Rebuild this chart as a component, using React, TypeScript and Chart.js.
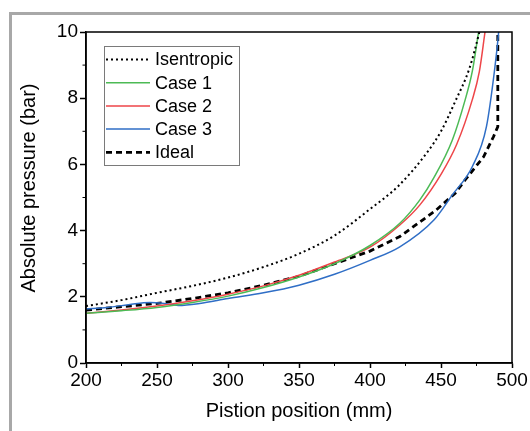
import React, { useEffect, useRef } from "react";
import { Chart, registerables } from "chart.js";

Chart.register(...registerables);

// ---- data ----
const xTicks = [200, 250, 300, 350, 400, 450, 500];
const yTicks = [0, 2, 4, 6, 8, 10];
const xMinorTicks = [225, 275, 325, 375, 425, 475];
const yMinorTicks = [1, 3, 5, 7, 9];

const isentropicX = [200, 225, 250, 275, 300, 325, 350, 375, 400, 420, 440, 450, 460, 470, 477, 480];
const isentropicY = [1.72, 1.9, 2.12, 2.33, 2.58, 2.9, 3.3, 3.85, 4.65, 5.35, 6.35, 7.0, 7.9, 8.9, 10.0, 10.6];

const case1X = [200, 225, 250, 275, 300, 325, 350, 375, 400, 421, 435, 445, 458, 467, 472, 476.5, 479];
const case1Y = [1.5, 1.58, 1.68, 1.83, 2.02, 2.28, 2.6, 3.0, 3.55, 4.22, 4.92, 5.6, 6.74, 7.95, 8.8, 10.0, 10.6];

const case2X = [200, 225, 250, 275, 300, 325, 350, 375, 400, 421, 435, 450, 461, 472, 477, 481, 483];
const case2Y = [1.5, 1.6, 1.72, 1.88, 2.08, 2.33, 2.65, 3.05, 3.5, 4.17, 4.77, 5.7, 6.6, 7.95, 8.8, 10.0, 10.6];

const case3X = [200, 215, 230, 245, 255, 265, 280, 300, 325, 350, 375, 400, 421, 445, 458, 472, 482, 488, 490.6, 492];
const case3Y = [1.63, 1.68, 1.76, 1.83, 1.8, 1.74, 1.8, 1.95, 2.12, 2.35, 2.68, 3.1, 3.51, 4.32, 5.08, 5.93, 7.14, 8.95, 10.0, 10.8];

const idealX = [200, 225, 250, 275, 300, 325, 350, 375, 400, 421, 446, 460, 467, 480, 487, 490, 490];
const idealY = [1.6, 1.7, 1.8, 1.95, 2.12, 2.35, 2.62, 3.0, 3.38, 3.82, 4.6, 5.13, 5.53, 6.23, 6.84, 7.14, 10.5];

const seriesLabels = ["Isentropic", "Case 1", "Case 2", "Case 3", "Ideal"];
const xTitle = "Pistion position (mm)";
const yTitle = "Absolute pressure (bar)";

const FONT = "'Liberation Sans', Arial, sans-serif";

const pts = (xs: number[], ys: number[]) => xs.map((x, i) => ({ x, y: ys[i] }));

export default function App() {
  const ref = useRef<HTMLCanvasElement | null>(null);

  useEffect(() => {
    if (!ref.current) return;

    const framePlugin = {
      id: "frame",
      afterDraw(chart: any) {
        const { ctx, chartArea } = chart;
        const { left, right, top, bottom } = chartArea;
        const xs = chart.scales.x;
        const ys = chart.scales.y;
        ctx.save();
        // frame
        ctx.strokeStyle = "#000";
        ctx.lineWidth = 1.5;
        ctx.strokeRect(left, top, right - left, bottom - top);
        // minor ticks
        ctx.lineWidth = 1;
        ctx.beginPath();
        xMinorTicks.forEach((v) => {
          const px = xs.getPixelForValue(v);
          ctx.moveTo(px, bottom);
          ctx.lineTo(px, bottom + 3);
        });
        yMinorTicks.forEach((v) => {
          const py = ys.getPixelForValue(v);
          ctx.moveTo(left, py);
          ctx.lineTo(left - 3.5, py);
        });
        ctx.stroke();
        // y title
        ctx.fillStyle = "#000";
        ctx.font = `20px ${FONT}`;
        ctx.textAlign = "center";
        ctx.textBaseline = "middle";
        ctx.translate(29, 188);
        ctx.rotate(-Math.PI / 2);
        ctx.fillText(yTitle, 0, 0);
        ctx.restore();

        // legend
        ctx.save();
        const bx = 104, by = 46, bw = 135, bh = 119;
        ctx.strokeStyle = "#7a7a7a";
        ctx.lineWidth = 1;
        ctx.strokeRect(bx + 0.5, by + 0.5, bw, bh);
        ctx.font = `18px ${FONT}`;
        ctx.textAlign = "left";
        ctx.textBaseline = "middle";
        chart.data.datasets.forEach((ds: any, i: number) => {
          const yy = 59.5 + i * 23.2;
          ctx.beginPath();
          ctx.strokeStyle = ds.borderColor;
          ctx.lineWidth = ds.borderWidth;
          ctx.setLineDash(ds.borderDash || []);
          ctx.moveTo(106, yy);
          ctx.lineTo(150, yy);
          ctx.stroke();
          ctx.setLineDash([]);
          ctx.fillStyle = "#000";
          ctx.fillText(ds.label, 155, yy + 1);
        });
        ctx.restore();
      },
    };

    const chart = new Chart(ref.current, {
      type: "line",
      data: {
        datasets: [
          {
            label: seriesLabels[0],
            data: pts(isentropicX, isentropicY),
            borderColor: "#000",
            borderWidth: 2,
            borderDash: [2, 3],
            pointRadius: 0,
            cubicInterpolationMode: "monotone",
          },
          {
            label: seriesLabels[1],
            data: pts(case1X, case1Y),
            borderColor: "#4cba55",
            borderWidth: 1.5,
            pointRadius: 0,
            cubicInterpolationMode: "monotone",
          },
          {
            label: seriesLabels[2],
            data: pts(case2X, case2Y),
            borderColor: "#ee4548",
            borderWidth: 1.5,
            pointRadius: 0,
            cubicInterpolationMode: "monotone",
          },
          {
            label: seriesLabels[3],
            data: pts(case3X, case3Y),
            borderColor: "#2f6ec6",
            borderWidth: 1.5,
            pointRadius: 0,
            cubicInterpolationMode: "monotone",
          },
          {
            label: seriesLabels[4],
            data: pts(idealX, idealY),
            borderColor: "#000",
            borderWidth: 2.8,
            borderDash: [6, 4],
            pointRadius: 0,
            tension: 0,
          },
        ],
      } as any,
      options: {
        animation: false,
        responsive: false,
        devicePixelRatio: 1,
        layout: { padding: { left: 0, right: 18, top: 32, bottom: 0 } },
        plugins: {
          legend: { display: false },
          tooltip: { enabled: false },
        },
        scales: {
          x: {
            type: "linear",
            min: 200,
            max: 500,
            afterFit: (s: any) => {
              s.height = 68;
            },
            afterBuildTicks: (s: any) => {
              s.ticks = xTicks.map((v) => ({ value: v }));
            },
            grid: {
              drawOnChartArea: false,
              drawTicks: true,
              tickLength: 5,
              tickColor: "#000",
              tickWidth: 1.5,
            },
            border: { display: true, color: "#000", width: 1.5 },
            ticks: {
              color: "#000",
              padding: 1,
              maxRotation: 0,
              font: { family: FONT, size: 19 },
            },
            title: {
              display: true,
              text: xTitle,
              color: "#000",
              font: { family: FONT, size: 20 },
              padding: { top: 0, bottom: 8 },
            },
          },
          y: {
            type: "linear",
            min: 0,
            max: 10,
            afterFit: (s: any) => {
              s.width = 86;
            },
            afterBuildTicks: (s: any) => {
              s.ticks = yTicks.map((v) => ({ value: v }));
            },
            grid: {
              drawOnChartArea: false,
              drawTicks: true,
              tickLength: 6,
              tickColor: "#000",
              tickWidth: 1.5,
            },
            border: { display: true, color: "#000", width: 1.5 },
            ticks: {
              color: "#000",
              padding: 2,
              font: { family: FONT, size: 19 },
            },
          },
        },
      } as any,
      plugins: [framePlugin],
    });

    return () => chart.destroy();
  }, []);

  return (
    <div style={{ position: "fixed", left: 0, top: 0, width: 530, height: 431, background: "#fff" }}>
      <div
        style={{
          position: "absolute",
          left: 9,
          top: 12,
          right: 0,
          bottom: 0,
          borderTop: "3px solid #a8a8a8",
          borderLeft: "3px solid #a8a8a8",
        }}
      />
      <canvas ref={ref} width={530} height={431} style={{ position: "absolute", left: 0, top: 0 }} />
    </div>
  );
}
